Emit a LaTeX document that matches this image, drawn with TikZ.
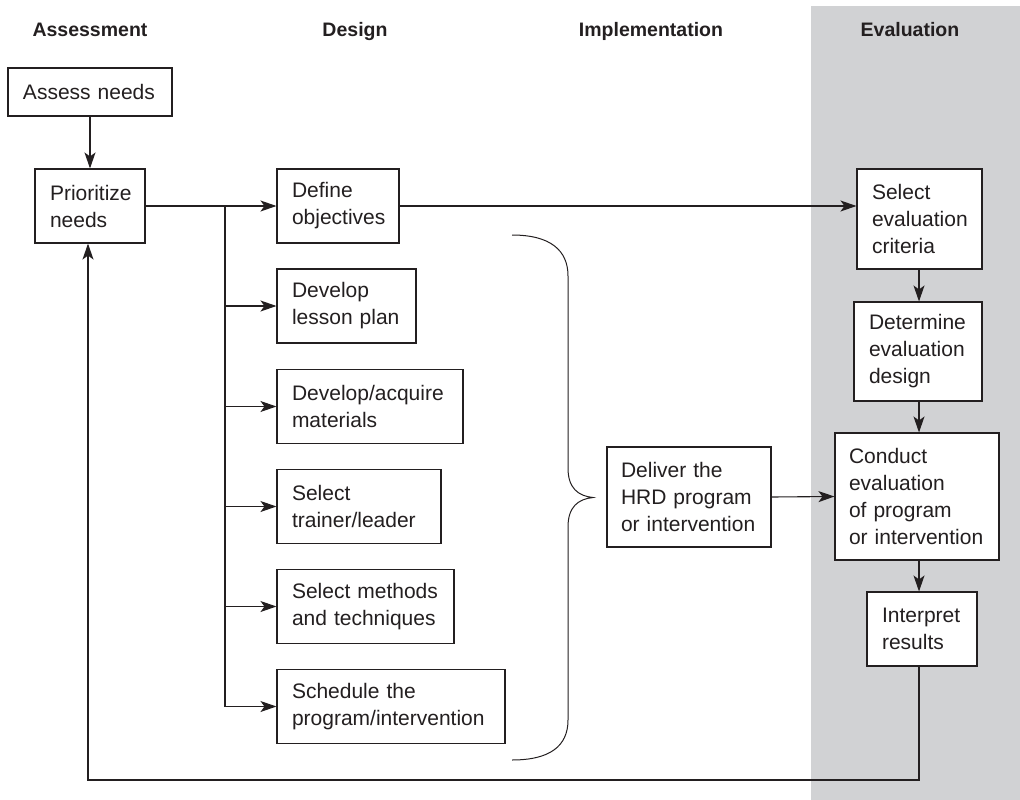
\documentclass[tikz,border=0pt]{standalone}
\usepackage{fontspec}
\setmainfont{Liberation Sans}
\usetikzlibrary{arrows.meta}
\definecolor{ink}{HTML}{231F20}
\definecolor{band}{RGB}{209,210,212}

\begin{document}
\begin{tikzpicture}[x=1pt,y=-1pt,
  box/.style={draw=ink, fill=white, line width=1.1pt, inner xsep=15pt, inner ysep=0pt,
    align=left, text=ink, font=\fontsize{21}{27}\selectfont,
    execute at begin node={\hyphenpenalty=10000\exhyphenpenalty=10000}},
  head/.style={font=\bfseries\fontsize{19.5}{22}\selectfont, text=ink, anchor=base},
  link/.style={draw=ink, line width=1.1pt},
  arr/.style={link, -{Stealth[length=16pt,width=11pt,inset=4pt]}}]

\useasboundingbox (0,0) rectangle (1020,800);

% shaded evaluation column
\fill[band] (811,6) rectangle (1020,800);

% column headings
\node[head] (hA) at (90,37) {Assessment};
\node[head] (hD) at (355,37) {Design};
\node[head] (hI) at (651,37) {Implementation};
\node[head] (hE) at (910,37) {Evaluation};

% assessment
\node[box, text width=134pt, minimum height=48pt] (assess) at (90,92) {Assess needs};
\node[box, text width=80pt, minimum height=74pt] (prior) at (90,206) {Prioritize\\needs};

% design
\node[box, text width=92pt, minimum height=74pt] (define) at (338,206) {Define\\objectives};
\node[box, text width=109pt, minimum height=74pt] (lesson) at (346.5,306) {Develop\\lesson plan};
\node[box, text width=156pt, minimum height=74pt] (materials) at (370,406.5) {Develop/acquire\\materials};
\node[box, text width=134pt, minimum height=74pt] (trainer) at (359,506.5) {Select\\trainer/leader};
\node[box, text width=147pt, minimum height=74pt] (methods) at (365.5,606.5) {Select methods\\and techniques};
\node[box, text width=198pt, minimum height=74pt] (schedule) at (391,706.5) {Schedule the\\program/intervention};

% implementation
\node[box, inner xsep=14pt, text width=136pt, minimum height=100pt] (deliver) at (689,497) {Deliver the\\HRD program\\or intervention};

% evaluation
\node[box, text width=95pt, minimum height=100pt] (criteria) at (919.5,219) {Select\\evaluation\\criteria};
\node[box, text width=98pt, minimum height=99pt] (design) at (918,351.5) {Determine\\evaluation\\design};
\node[box, inner xsep=14pt, text width=136pt, minimum height=127pt] (conduct) at (917,496.5) {Conduct\\evaluation\\of program\\or intervention};
\node[box, text width=80pt, minimum height=74pt] (interpret) at (922,629) {Interpret\\results};

% connectors
\draw[arr] (assess.south) -- (prior.north);
\coordinate (trunk) at (225,206);
\draw[arr] (prior.east) -- (define.west);
\draw[link] (trunk) -- (trunk |- schedule.west);
\draw[arr] (trunk) |- (lesson.west);
\draw[arr] (trunk) |- (materials.west);
\draw[arr] (trunk) |- (trainer.west);
\draw[arr] (trunk) |- (methods.west);
\draw[arr] (trunk) |- (schedule.west);

\draw[arr] (define.east) -- (define.east -| criteria.west);
\coordinate (col) at (919,0);
\draw[arr] (col |- criteria.south) -- (col |- design.north);
\draw[arr] (col |- design.south) -- (col |- conduct.north);
\draw[arr] (col |- conduct.south) -- (col |- interpret.north);
\draw[arr] (deliver.east) -- (conduct.west);

% feedback loop
\coordinate (back) at (88,780);
\draw[arr] (col |- interpret.south) |- (back) -- (back |- prior.south);

% brace gathering the design steps
\draw[link, line width=1pt]
  (512,235) .. controls (550,235) and (568,250) .. (568,276)
  -- (568,468) .. controls (568,488) and (578,496) .. (593,497.5)
  .. controls (578,499) and (568,507) .. (568,527)
  -- (568,720) .. controls (568,746) and (550,760) .. (512,760);
\end{tikzpicture}
\end{document}
